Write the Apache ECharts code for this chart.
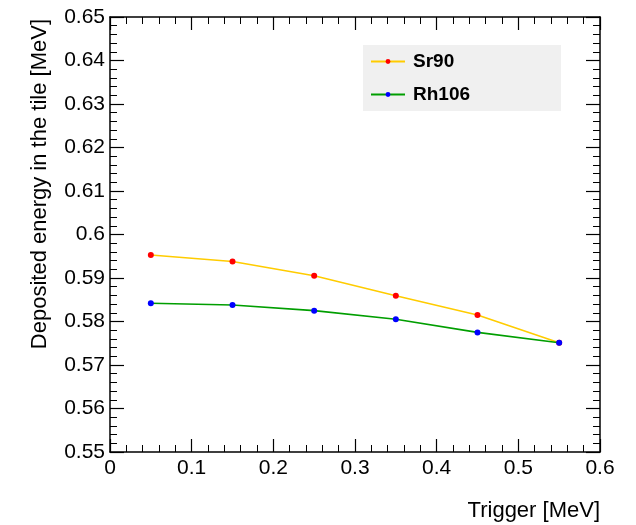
<!DOCTYPE html>
<html>
<head>
<meta charset="utf-8">
<script src="https://cdn.jsdelivr.net/npm/echarts@6/dist/echarts.min.js"></script>
<style>
  html, body { margin: 0; padding: 0; background: #fff; }
  #chart { width: 636px; height: 525px; }
</style>
</head>
<body>
<div id="chart"></div>
<script>
// Trigger thresholds [MeV]
const triggers = [0.05, 0.15, 0.25, 0.35, 0.45, 0.55];
// Mean deposited energy in the tile [MeV] per source
const sr90 = [0.5953, 0.5938, 0.5905, 0.5859, 0.5815, 0.5751];
const rh106 = [0.5842, 0.5838, 0.5825, 0.5805, 0.5775, 0.5751];
const seriesNames = ['Sr90', 'Rh106'];
const xTitle = 'Trigger [MeV]';
const yTitle = 'Deposited energy in the tile [MeV]';

const FONT = '"Liberation Sans", Arial, Helvetica, sans-serif';

function pairs(xs, ys) { return xs.map((x, i) => [x, ys[i]]); }

function axisBase(min, max, interval, majorLen, minorLen, showLabel, labelMargin) {
  return {
    type: 'value', min: min, max: max, interval: interval,
    axisLine: { show: true, onZero: false, lineStyle: { color: '#000', width: 1.5 } },
    axisTick: { show: true, inside: true, length: majorLen, lineStyle: { color: '#000', width: 1.2 } },
    minorTick: { show: true, splitNumber: 5, length: minorLen, lineStyle: { color: '#000', width: 1 } },
    splitLine: { show: false },
    axisLabel: { show: showLabel, color: '#000', fontSize: 21, fontFamily: FONT, margin: labelMargin }
  };
}

const chart = echarts.init(document.getElementById('chart'), null, { renderer: 'canvas' });

chart.setOption({
  animation: false,
  backgroundColor: '#fff',
  grid: { left: 110, right: 36, top: 17, bottom: 73, containLabel: false },
  xAxis: [
    Object.assign(axisBase(0, 0.6, 0.1, 13, 7, true, 6), { position: 'bottom' }),
    Object.assign(axisBase(0, 0.6, 0.1, 13, 7, false, 6), { position: 'top' })
  ],
  yAxis: [
    Object.assign(axisBase(0.55, 0.65, 0.01, 14, 7, true, 5), { position: 'left' }),
    Object.assign(axisBase(0.55, 0.65, 0.01, 14, 7, false, 5), { position: 'right' })
  ],
  legend: {
    orient: 'vertical',
    left: 363, top: 45,
    itemWidth: 34, itemHeight: 6, itemGap: 14,
    padding: [7, 91, 7, 7],
    backgroundColor: '#f0f0f0',
    borderWidth: 0,
    textStyle: { color: '#000', fontSize: 19, fontWeight: 'bold', fontFamily: FONT, padding: [0, 0, 0, 3] },
    data: seriesNames
  },
  series: [
    {
      name: seriesNames[0], type: 'line', xAxisIndex: 0, yAxisIndex: 0,
      data: pairs(triggers, sr90),
      symbol: 'circle', symbolSize: 6,
      lineStyle: { color: '#ffcc00', width: 1.6 },
      itemStyle: { color: '#ff0000' },
      z: 3
    },
    {
      name: seriesNames[1], type: 'line', xAxisIndex: 0, yAxisIndex: 0,
      data: pairs(triggers, rh106),
      symbol: 'circle', symbolSize: 6,
      lineStyle: { color: '#009e00', width: 1.6 },
      itemStyle: { color: '#0000ff' },
      z: 4
    }
  ],
  graphic: [
    {
      type: 'text', x: 600, y: 511,
      style: { text: xTitle, fill: '#000', font: '22px ' + FONT, textAlign: 'right', textVerticalAlign: 'middle' }
    },
    {
      type: 'text', x: 40, y: 19, rotation: Math.PI / 2,
      style: { text: yTitle, fill: '#000', font: '22px ' + FONT, textAlign: 'right', textVerticalAlign: 'middle' }
    }
  ]
});
</script>
</body>
</html>
